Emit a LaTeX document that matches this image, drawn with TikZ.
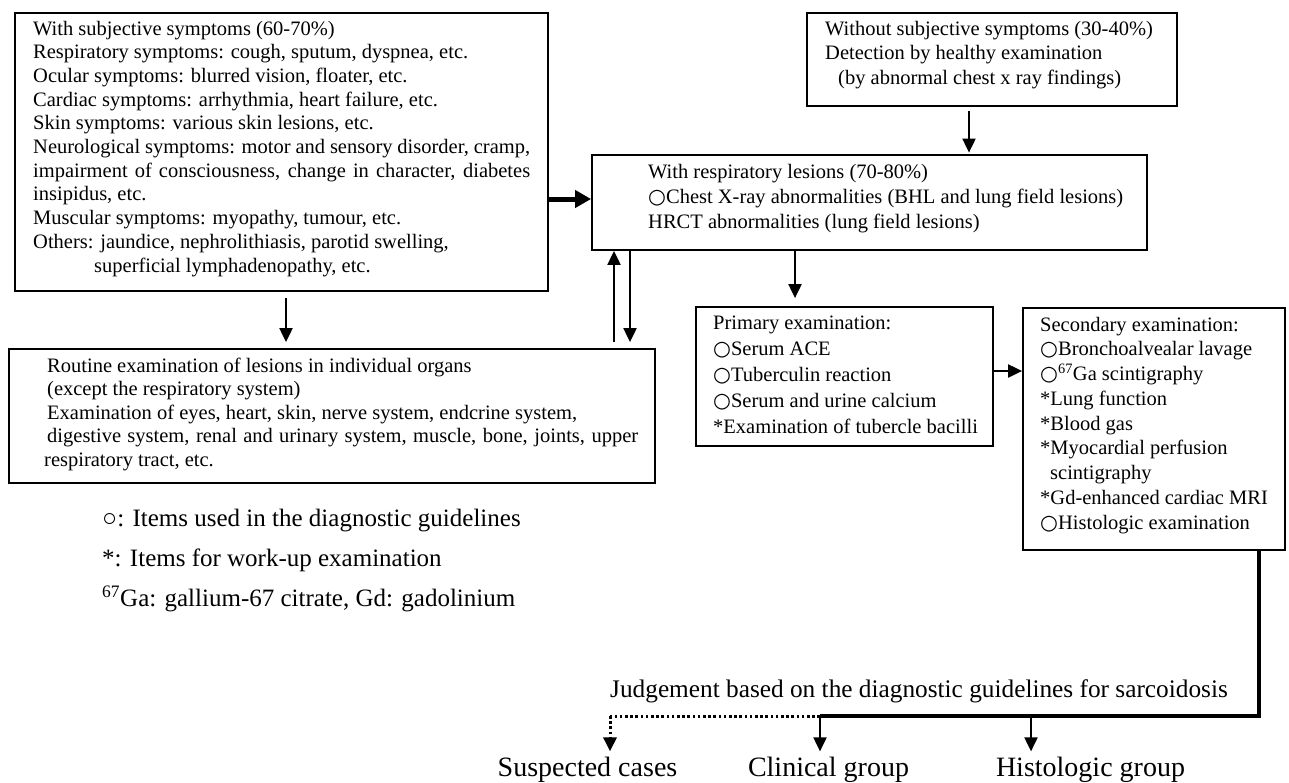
\documentclass[tikz,border=0pt]{standalone}
\usepackage{fontspec}
\setmainfont{Liberation Serif}
\newfontfamily\circfont{DejaVu Sans}
\newcommand{\wc}{{\circfont ○}}
\usetikzlibrary{arrows.meta}
\begin{document}
\begin{tikzpicture}[x=1pt,y=-1pt,
  box/.style={draw, line width=1.8pt, inner sep=0pt},
  txt/.style={anchor=north west, inner sep=0pt, align=left, font=\fontsize{20.5}{#1}\selectfont},
  txt/.default=23.7,
  arr/.style={line width=2pt, -{Triangle[length=14pt,width=13pt]}},
  bigarr/.style={line width=5pt, -{Triangle[length=16pt,width=17pt]}},
  thickline/.style={line width=3.5pt},
  dotline/.style={line width=3pt, dash pattern=on 2.6pt off 2.6pt},
  dotarr/.style={line width=3pt, dash pattern=on 2.6pt off 2.6pt, -{Triangle[length=14pt,width=13pt]}},
  lbl/.style={anchor=base, inner sep=2pt, font=\fontsize{28}{32}\selectfont},
  legend/.style={anchor=north west, inner sep=0pt, align=left, font=\fontsize{25}{40}\selectfont}
]
\useasboundingbox (0,0) rectangle (1289,782);

% boxes
\node[box, minimum width=533pt, minimum height=278pt] (A) at (281.5,152) {};
\node[box, minimum width=370pt, minimum height=93pt]  (B) at (992,59.5) {};
\node[box, minimum width=555pt, minimum height=95pt]  (C) at (869.5,202.5) {};
\node[box, minimum width=646pt, minimum height=134pt] (D) at (332,416) {};
\node[box, minimum width=297pt, minimum height=139pt] (P) at (844.5,376.5) {};
\node[box, minimum width=262pt, minimum height=242pt] (S) at (1154,429) {};

% texts
\node[txt=23.7] (tA) at (33,20.6) {With subjective symptoms (60-70\%)\\
Respiratory symptoms: cough, sputum, dyspnea, etc.\\
Ocular symptoms: blurred vision, floater, etc.\\
Cardiac symptoms: arrhythmia, heart failure, etc.\\
Skin symptoms: various skin lesions, etc.\\
\makebox[497pt][s]{Neurological symptoms: motor and sensory disorder, cramp,}\\
\makebox[497pt][s]{impairment of consciousness, change in character, diabetes}\\
insipidus, etc.\\
Muscular symptoms: myopathy, tumour, etc.\\
Others: jaundice, nephrolithiasis, parotid swelling,\\
\hspace*{61pt}superficial lymphadenopathy, etc.};

\node[txt=24.5] (tB) at (825,20.6) {Without subjective symptoms (30-40\%)\\
Detection by healthy examination\\
\hspace*{13pt}(by abnormal chest x ray findings)};

\node[txt=25] (tC) at (648,163.6) {With respiratory lesions (70-80\%)\\
\wc Chest X-ray abnormalities (BHL and lung field lesions)\\
HRCT abnormalities (lung field lesions)};

\node[txt=23.5] (tD) at (47,357.6) {Routine examination of lesions in individual organs\\
(except the respiratory system)\\
Examination of eyes, heart, skin, nerve system, endcrine system,\\
\makebox[591pt][s]{digestive system, renal and urinary system, muscle, bone, joints, upper}\\
\hspace*{-3pt}respiratory tract, etc.};

\node[txt=26] (tP) at (713,315.6) {Primary examination:\\
\wc Serum ACE\\
\wc Tuberculin reaction\\
\wc Serum and urine calcium\\
*Examination of tubercle bacilli};

\node[txt=24.75] (tS) at (1040,316.6) {Secondary examination:\\
\wc Bronchoalvealar lavage\\
\wc\textsuperscript{67}Ga scintigraphy\\
*Lung function\\
*Blood gas\\
*Myocardial perfusion\\
\hspace*{10pt}scintigraphy\\
*Gd-enhanced cardiac MRI\\
\wc Histologic examination};

\node[legend] (leg) at (102,509) {○: Items used in the diagnostic guidelines\\
*: Items for work-up examination\\
\textsuperscript{67}Ga: gallium-67 citrate, Gd: gadolinium};

\node[anchor=base west, inner sep=0pt, font=\fontsize{25.3}{30}\selectfont] (judge) at (610,697)
  {Judgement based on the diagnostic guidelines for sarcoidosis};

\node[lbl] (susp) at (587.5,776) {Suspected cases};
\node[lbl] (clin) at (828.5,776) {Clinical group};
\node[lbl] (hist) at (1090.5,776) {Histologic group};

% connector coordinates
\coordinate (cAC) at (0,199);
\coordinate (cBC) at (969,0);
\coordinate (cAD) at (286,0);
\coordinate (cUp) at (614,0);
\coordinate (cDn) at (630,0);
\coordinate (cCP) at (795,0);
\coordinate (cPS) at (0,371);
\coordinate (jR) at (1259,716);
\coordinate (jC) at (820,716);
\coordinate (jH) at (1031,716);
\coordinate (jS) at (610,716);

% connectors
\draw[bigarr] (A.east |- cAC) -- (C.west |- cAC);
\draw[arr, shorten <=4pt, shorten >=1.5pt] (B.south -| cBC) -- (C.north -| cBC);
\draw[arr, shorten <=6pt, shorten >=6pt] (A.south -| cAD) -- (D.north -| cAD);
\draw[arr, shorten <=6pt] (D.north -| cUp) -- (C.south -| cUp);
\draw[arr, shorten >=6pt] (C.south -| cDn) -- (D.north -| cDn);
\draw[arr, shorten >=8pt] (C.south -| cCP) -- (P.north -| cCP);
\draw[arr] (P.east |- cPS) -- (S.west |- cPS);

\draw[thickline] (S.south -| jR) -- (jR) -- (jC);
\draw[dotline] (jC) -- (jS);
\draw[dotarr, shorten >=3pt] (jS) -- (susp.north -| jS);
\draw[arr, shorten >=3pt] (jC) -- (clin.north -| jC);
\draw[arr, shorten >=3pt] (jH) -- (hist.north -| jH);
\end{tikzpicture}
\end{document}
